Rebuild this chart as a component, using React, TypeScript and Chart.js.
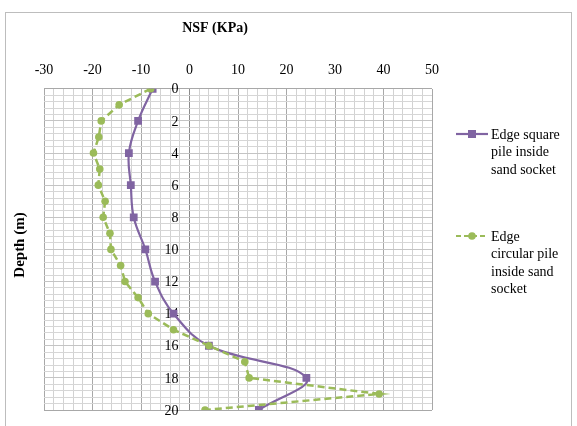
import { useEffect, useRef } from 'react';
import { Chart, registerables } from 'chart.js';

Chart.register(...registerables);

// ---- data ----
const squareDepth = [0, 2, 4, 6, 8, 10, 12, 14, 16, 18, 20];
const squareNSF = [-7.6, -10.6, -12.5, -12.1, -11.5, -9.1, -7.1, -3.3, 4.0, 24.1, 14.3];

const circleDepth = [0, 1, 2, 3, 4, 5, 6, 7, 8, 9, 10, 11, 12, 13, 14, 15, 16, 17, 18, 19, 20];
const circleNSF = [-8.0, -14.5, -18.2, -18.7, -19.8, -18.5, -18.8, -17.4, -17.8, -16.4, -16.2, -14.2, -13.3, -10.6, -8.5, -3.3, 4.0, 11.4, 12.3, 39.1, 3.2];

const depthTickLabels = [0, 2, 4, 6, 8, 10, 12, 14, 16, 18, 20];
const squareLabelLines = ['Edge square', 'pile inside', 'sand socket'];
const circleLabelLines = ['Edge', 'circular pile', 'inside sand', 'socket'];

const xTitle = 'NSF (KPa)';
const yTitle = 'Depth (m)';

const PURPLE = '#8064A2';
const GREEN = '#9BBB59';
const SERIF = '"Liberation Serif", "Times New Roman", serif';

const isMult = (v: number, m: number) => Math.abs(v / m - Math.round(v / m)) < 1e-6;

const decorPlugin = {
  id: 'decor',
  beforeDraw(chart: any) {
    const ctx = chart.ctx;
    ctx.save();
    ctx.fillStyle = '#ffffff';
    ctx.fillRect(0, 0, chart.width, chart.height);
    ctx.strokeStyle = '#bdbdbd';
    ctx.lineWidth = 1;
    ctx.strokeRect(5.5, 12.5, 566, 440);
    ctx.restore();
  },
  beforeDatasetsDraw(chart: any) {
    const ctx = chart.ctx;
    const xs = chart.scales.x;
    const ys = chart.scales.y;
    const x0 = xs.getPixelForValue(0);
    ctx.save();
    ctx.fillStyle = '#000';
    ctx.font = `14px ${SERIF}`;
    ctx.textAlign = 'right';
    ctx.textBaseline = 'middle';
    depthTickLabels.forEach((v) => {
      ctx.fillText(String(v), x0 - 11, ys.getPixelForValue(v) + 1);
    });
    // titles
    ctx.font = `bold 14px ${SERIF}`;
    ctx.textAlign = 'center';
    ctx.fillText(xTitle, 215, 28);
    ctx.font = `bold 15px ${SERIF}`;
    ctx.translate(20, 245);
    ctx.rotate(-Math.PI / 2);
    ctx.fillText(yTitle, 0, 0);
    ctx.restore();
  },
  afterDraw(chart: any) {
    const ctx = chart.ctx;
    ctx.save();
    const drawEntry = (y: number, color: string, dashed: boolean, square: boolean, lines: string[]) => {
      ctx.strokeStyle = color;
      ctx.lineWidth = 2.2;
      ctx.setLineDash(dashed ? [5, 3] : []);
      ctx.beginPath();
      ctx.moveTo(456, y);
      ctx.lineTo(488, y);
      ctx.stroke();
      ctx.setLineDash([]);
      ctx.fillStyle = color;
      if (square) {
        ctx.fillRect(468, y - 4, 8, 8);
      } else {
        ctx.beginPath();
        ctx.arc(472, y, 3.8, 0, Math.PI * 2);
        ctx.fill();
      }
      ctx.fillStyle = '#000';
      ctx.font = `14px ${SERIF}`;
      ctx.textAlign = 'left';
      ctx.textBaseline = 'middle';
      lines.forEach((t, i) => ctx.fillText(t, 491, y + 1 + i * 17.6));
    };
    drawEntry(134, PURPLE, false, true, squareLabelLines);
    drawEntry(236, GREEN, true, false, circleLabelLines);
    ctx.restore();
  },
};

export default function App() {
  const ref = useRef<HTMLCanvasElement | null>(null);

  useEffect(() => {
    if (!ref.current) return;
    const chart = new Chart(ref.current, {
      type: 'scatter',
      data: {
        datasets: [
          {
            label: squareLabelLines.join(' '),
            data: squareDepth.map((d, i) => ({ x: squareNSF[i], y: d })),
            showLine: true,
            order: 1,
            borderColor: PURPLE,
            backgroundColor: PURPLE,
            borderWidth: 2.2,
            pointStyle: 'rect',
            pointRadius: 5.5,
            pointBorderWidth: 0,
            tension: 0.4,
          },
          {
            label: circleLabelLines.join(' '),
            data: circleDepth.map((d, i) => ({ x: circleNSF[i], y: d })),
            showLine: true,
            order: 0,
            borderColor: GREEN,
            backgroundColor: GREEN,
            borderWidth: 2.5,
            borderDash: [7, 4],
            pointStyle: 'circle',
            pointRadius: 3.8,
            pointBorderWidth: 0,
            tension: 0,
          },
        ],
      },
      options: {
        responsive: false,
        animation: false,
        events: [],
        layout: { padding: { left: 44, right: 145, top: 52, bottom: 16 } },
        plugins: {
          legend: { display: false },
          tooltip: { enabled: false },
        },
        scales: {
          x: {
            type: 'linear',
            position: 'top',
            min: -30,
            max: 50,
            ticks: {
              stepSize: 2,
              maxTicksLimit: 1000,
              autoSkip: false,
              maxRotation: 0,
              padding: 10,
              color: '#000',
              font: { family: SERIF, size: 14 },
              callback: (v: any) => (isMult(Number(v), 10) ? String(v) : ''),
            },
            grid: {
              drawTicks: false,
              color: (c: any) => {
                const v = c.tick ? c.tick.value : 0;
                if (Math.abs(v) < 1e-6) return '#8c8c8c';
                return isMult(v, 10) ? '#a8a8a8' : '#d2d2d2';
              },
              lineWidth: 1,
            },
            border: { display: false },
          },
          y: {
            type: 'linear',
            reverse: true,
            min: 0,
            max: 20,
            ticks: {
              display: false,
              stepSize: 0.4,
              maxTicksLimit: 1000,
              autoSkip: false,
            },
            grid: {
              drawTicks: false,
              color: (c: any) => {
                const v = c.tick ? c.tick.value : 0;
                if (isMult(v, 20)) return '#a8a8a8';
                return isMult(v, 2) ? '#c4c4c4' : '#d6d6d6';
              },
              lineWidth: 1,
            },
            border: { display: false },
          },
        },
      },
      plugins: [decorPlugin],
    } as any);
    return () => chart.destroy();
  }, []);

  return (
    <div style={{ position: 'fixed', left: 0, top: 0, width: 577, height: 426, background: '#fff' }}>
      <canvas ref={ref} width={577} height={426} style={{ display: 'block', width: 577, height: 426 }} />
    </div>
  );
}
